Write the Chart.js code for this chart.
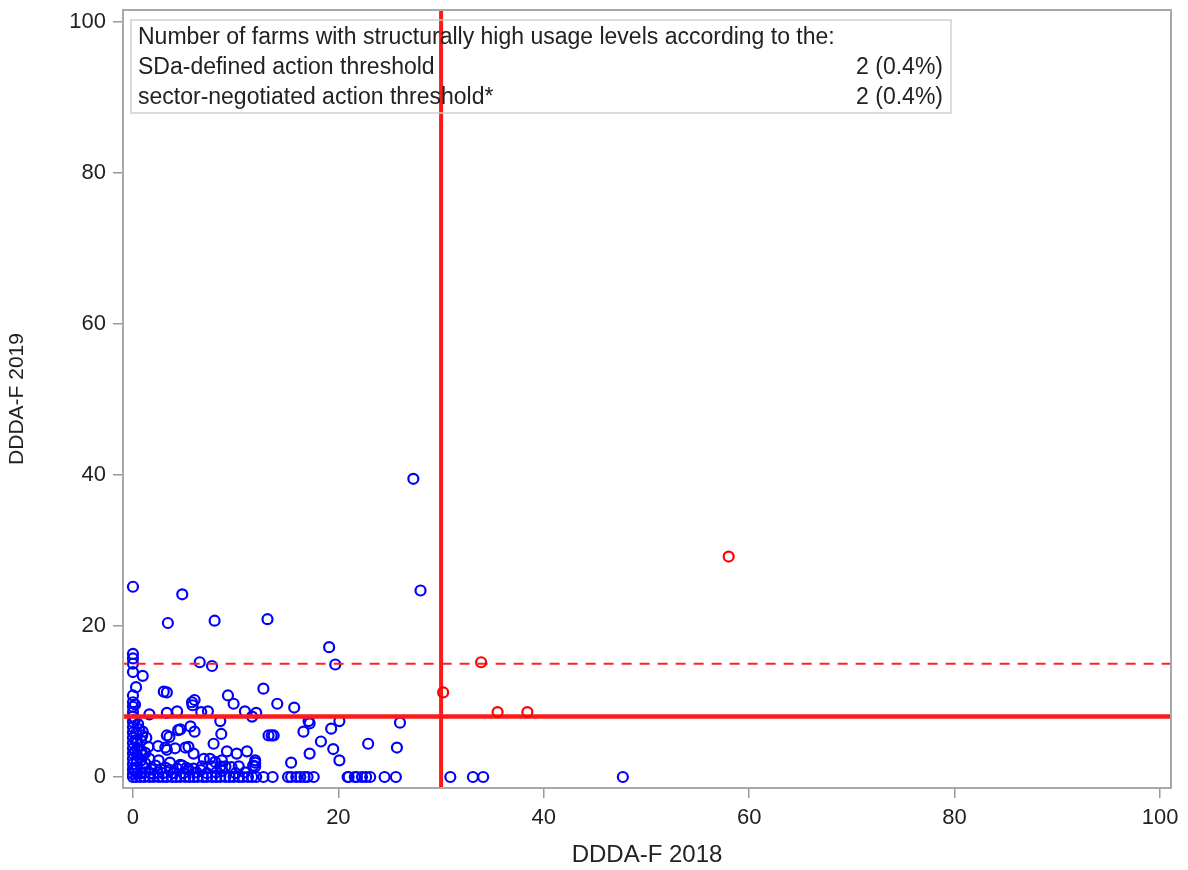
<!DOCTYPE html>
<html>
<head>
<meta charset="utf-8">
<script src="https://cdn.jsdelivr.net/npm/chart.js@4/dist/chart.umd.min.js"></script>
<style>
  body { margin: 0; background: #fff; }
  #wrap { width: 1188px; height: 870px; }
</style>
</head>
<body>
<div id="wrap"><canvas id="farms" width="1188" height="870"></canvas></div>
<script>
// farms below at least one threshold: [DDDA-F 2018, DDDA-F 2019]
const blueFarms = [
  [27.3, 39.5], [28.0, 24.7], [0, 25.2], [4.8, 24.2], [3.4, 20.4], [7.95, 20.7], [13.1, 20.9],
  [19.1, 17.2], [19.7, 14.9], [6.5, 15.2], [7.7, 14.7],
  [0, 16.3], [0, 15.7], [0, 15.0], [0, 13.9], [0.95, 13.4], [0.3, 11.9], [0, 10.8], [0, 9.9],
  [0, 9.3], [0, 8.6], [0, 8.0], [0, 7.3], [0, 6.6], [0, 5.9], [0, 5.2], [0, 4.5], [0, 3.8],
  [0, 3.1], [0, 2.4], [0, 1.7], [0, 1.0], [0, 0.4], [0.3, 5.8], [0.3, 4.9], [0.2, 9.6], [0.2, 7.6],
  [3.0, 11.3], [3.3, 11.2], [5.75, 9.9], [6.0, 10.2], [5.8, 9.5], [6.65, 8.6], [7.3, 8.7],
  [1.6, 8.3], [3.3, 8.5], [4.3, 8.7], [9.25, 10.8], [9.8, 9.7], [12.7, 11.7], [14.05, 9.7],
  [15.7, 9.2], [10.9, 8.7], [12.0, 8.5], [11.6, 8.0], [8.5, 7.4], [8.6, 5.7], [0.95, 6.0],
  [5.6, 6.7], [6.0, 6.0], [4.6, 6.3], [4.4, 6.2], [3.3, 5.5], [3.55, 5.3], [1.5, 4.0], [2.45, 4.1],
  [3.15, 3.9], [3.3, 3.6], [4.1, 3.8], [5.1, 3.9], [5.4, 4.0], [5.9, 3.1], [7.85, 4.4], [9.15, 3.4],
  [10.1, 3.1], [11.1, 3.4], [8.0, 2.0], [8.65, 2.2], [6.9, 2.4], [2.5, 2.2], [3.6, 1.9], [4.6, 1.6],
  [4.8, 1.5], [6.7, 1.4], [0.95, 2.9], [0.95, 1.4], [7.5, 2.4], [7.7, 1.4], [9.6, 1.3], [10.3, 1.4],
  [8.5, 1.4], [9.0, 1.4], [1.8, 1.0], [2.7, 1.0], [3.6, 0.9], [5.4, 1.0], [5.9, 1.1],
  [13.2, 5.5], [13.5, 5.5], [13.7, 5.5], [11.9, 2.2], [11.9, 1.9], [11.9, 1.4], [11.7, 1.5],
  [15.4, 1.9], [17.2, 3.1], [18.3, 4.7], [19.5, 3.7], [20.1, 2.2], [16.6, 6.0], [17.2, 7.1],
  [17.1, 7.4], [19.3, 6.4], [20.1, 7.4], [22.9, 4.4], [26.0, 7.2], [25.7, 3.9],
  [0.4, 0.5], [0.4, 1.3], [0.4, 2.1], [0.4, 2.9], [0.4, 3.7], [0.4, 4.5], [0.8, 0.5], [0.8, 2.2],
  [0.8, 3.5], [0.8, 4.8], [1.2, 0.6], [1.2, 1.8], [1.2, 3.2], [1.3, 5.2], [1.7, 0.5], [1.6, 2.4],
  [2.0, 0.4], [2.2, 1.5], [2.4, 0.6], [2.9, 0.5], [3.2, 1.2], [3.9, 0.5], [4.3, 1.1], [4.9, 0.5],
  [5.2, 1.2], [6.2, 0.6], [6.6, 0.9], [7.2, 0.5], [8.1, 0.6], [8.7, 0.8], [10.0, 0.5], [10.9, 0.6],
  [0.6, 6.3], [0.5, 7.0], [0.9, 5.5], [0.2, 3.4], [0.2, 0.9],
  [0.3, 0], [0.7, 0], [1.1, 0], [1.6, 0], [2.0, 0], [2.5, 0], [2.9, 0], [3.3, 0], [3.8, 0],
  [4.2, 0], [4.6, 0], [5.1, 0], [5.5, 0], [5.9, 0], [6.3, 0], [6.8, 0], [7.2, 0], [7.7, 0],
  [8.1, 0], [8.5, 0], [9.0, 0], [9.4, 0], [9.8, 0], [10.3, 0], [10.7, 0], [11.2, 0], [11.6, 0],
  [12.0, 0], [12.7, 0], [13.6, 0], [15.1, 0], [15.4, 0], [15.9, 0], [16.3, 0], [16.7, 0],
  [17.0, 0], [17.6, 0], [20.9, 0], [21.0, 0], [21.6, 0], [21.8, 0], [22.3, 0], [22.7, 0],
  [23.1, 0], [24.5, 0], [25.6, 0], [30.9, 0], [33.1, 0], [34.1, 0], [47.7, 0], [0, 0]
];
// farms above both thresholds
const redFarms = [[30.2, 11.2], [33.9, 15.2], [35.5, 8.6], [38.4, 8.6], [58.0, 29.2]];

const threshold2018 = 30;    // vertical line
const threshold2019 = 8;     // SDa-defined, solid
const sectorThreshold = 15;  // sector-negotiated, dashed
const axisTicks = [0, 20, 40, 60, 80, 100];

const insetTitle = "Number of farms with structurally high usage levels according to the:";
const insetRows = [
  ["SDa-defined action threshold", "2 (0.4%)"],
  ["sector-negotiated action threshold*", "2 (0.4%)"]
];

const FONT = "'Liberation Sans', Arial, sans-serif";
const TXT = "#222";

const toPts = arr => arr.map(p => ({ x: p[0], y: p[1] }));

const framePlugin = {
  id: "frame",
  afterDatasetsDraw(chart) {
    const { ctx, chartArea: a } = chart;
    ctx.save();
    ctx.strokeStyle = "#a8a8a8";
    ctx.lineWidth = 2;
    ctx.strokeRect(a.left, a.top, a.right - a.left, a.bottom - a.top);

    // inset box (transparent, the threshold line shows through)
    const bx = a.left + 8, by = a.top + 10, bw = 820, bh = 93;
    ctx.strokeStyle = "#cfcfcf";
    ctx.lineWidth = 1.5;
    ctx.strokeRect(bx, by, bw, bh);
    ctx.fillStyle = TXT;
    ctx.font = "23px " + FONT;
    ctx.textBaseline = "middle";
    ctx.textAlign = "left";
    ctx.fillText(insetTitle, bx + 7, by + 18);
    insetRows.forEach((r, i) => {
      const ty = by + 48 + i * 29.5;
      ctx.textAlign = "left";
      ctx.fillText(r[0], bx + 7, ty);
      ctx.textAlign = "right";
      ctx.fillText(r[1], bx + bw - 8, ty);
    });
    ctx.restore();
  }
};

const scaleBase = (title, fit, titleSize) => ({
  type: "linear",
  afterBuildTicks: s => { s.ticks = axisTicks.map(v => ({ value: v })); },
  afterFit: fit,
  grid: { drawOnChartArea: false, drawTicks: true, tickLength: 10, color: "#9a9a9a", lineWidth: 1.5 },
  border: { display: false },
  ticks: { color: TXT, padding: 7, font: { family: FONT, size: 22 }, callback: v => String(v) },
  title: { display: true, text: title, color: TXT, font: { family: FONT, size: titleSize } }
});

const xScale = scaleBase("DDDA-F 2018", s => {
  s.height = 82; s.paddingLeft = 0; s.paddingRight = 0;
}, 24);
xScale.min = -0.97; xScale.max = 101.07;
xScale.title.padding = { top: 0, bottom: 0 };
const yScale = scaleBase("DDDA-F 2019", s => {
  s.width = 123; s.paddingTop = 0; s.paddingBottom = 0;
}, 21);
yScale.min = -1.46; yScale.max = 101.6;
yScale.title.padding = { top: 5, bottom: 0 };

new Chart(document.getElementById("farms").getContext("2d"), {
  type: "scatter",
  data: {
    datasets: [
      {
        label: "high",
        data: toPts(redFarms),
        borderColor: "#ff0000",
        backgroundColor: "transparent",
        pointRadius: 5,
        borderWidth: 2.2,
        order: 0
      },
      {
        label: "vline",
        type: "line",
        data: [{ x: threshold2018, y: -5 }, { x: threshold2018, y: 105 }],
        borderColor: "#ff1a1a",
        borderWidth: 4,
        pointRadius: 0,
        order: 1
      },
      {
        label: "hline",
        type: "line",
        data: [{ x: -5, y: threshold2019 }, { x: 105, y: threshold2019 }],
        borderColor: "#ff1a1a",
        borderWidth: 4.5,
        pointRadius: 0,
        order: 1
      },
      {
        label: "dash",
        type: "line",
        data: [{ x: -5, y: sectorThreshold }, { x: 105, y: sectorThreshold }],
        borderColor: "#ff2020",
        borderWidth: 2,
        borderDash: [10, 8],
        pointRadius: 0,
        order: 1
      },
      {
        label: "farms",
        data: toPts(blueFarms),
        borderColor: "#0000ff",
        backgroundColor: "transparent",
        pointRadius: 5,
        borderWidth: 2.2,
        order: 2
      }
    ]
  },
  options: {
    responsive: false,
    animation: false,
    layout: { padding: { left: 0, right: 17, top: 10, bottom: 0 } },
    plugins: { legend: { display: false }, tooltip: { enabled: false } },
    scales: { x: xScale, y: yScale }
  },
  plugins: [framePlugin]
});
</script>
</body>
</html>
